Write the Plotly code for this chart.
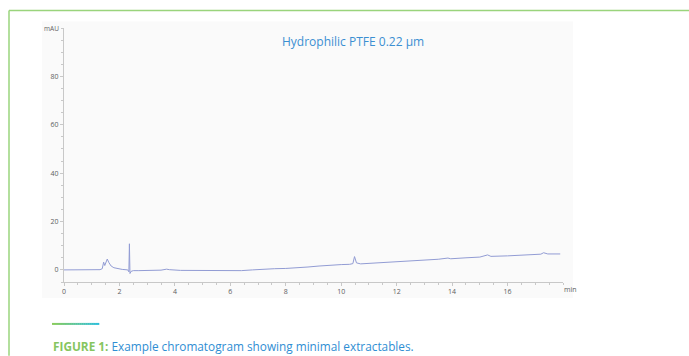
import plotly.graph_objects as go

# Retention time (min) and detector signal (mAU)
time_min = [0.0, 0.5, 1.0, 1.3, 1.38, 1.43, 1.47, 1.51, 1.56, 1.62, 1.70, 1.80, 1.95,
            2.1, 2.3, 2.34, 2.36, 2.38, 2.42, 2.5, 2.7, 3.0, 3.5, 3.7, 3.8, 4.2,
            5.0, 5.5, 6.0, 6.4, 6.8, 7.2, 7.6, 8.0, 8.4, 8.8, 9.2, 9.6, 9.8, 10.0,
            10.3, 10.42, 10.48, 10.55, 10.7, 11.0, 11.4, 11.5, 12.0, 12.5, 13.0,
            13.5, 13.85, 13.95, 14.5, 15.0, 15.28, 15.4, 16.0, 16.5, 17.0, 17.2,
            17.3, 17.45, 17.9]
signal_mau = [0.0, 0.0, 0.0, 0.1, 0.5, 3.2, 1.8, 3.0, 4.5, 3.0, 1.6, 0.9, 0.4,
              0.2, 0.0, -0.8, 10.8, -1.5, -0.6, -0.3, -0.3, -0.2, -0.1, 0.3, 0.1, -0.2,
              -0.3, -0.3, -0.5, -0.3, 0.0, 0.4, 0.5, 0.6, 0.8, 1.2, 1.6, 2.0, 1.9, 2.2,
              2.3, 2.6, 5.5, 2.9, 2.5, 2.7, 3.2, 3.0, 3.4, 3.7, 4.1,
              4.4, 4.9, 4.6, 5.0, 5.3, 6.2, 5.6, 5.8, 6.0, 6.2, 6.5,
              7.1, 6.6, 6.6]

x_ticks = [0, 2, 4, 6, 8, 10, 12, 14, 16]
y_ticks = [0, 20, 40, 60, 80]

W, H = 689, 356
M_L, M_R, M_T, M_B = 64, 126, 27.5, 74
PW, PH = W - M_L - M_R, H - M_T - M_B


def px(xp):
    return (xp - M_L) / PW


def py(yp):
    return (H - M_B - yp) / PH


FONT = "Open Sans"
AXIS_COL = "#c8c8c8"
TICK_FONT = dict(family=FONT, size=7, color="#606060")

fig = go.Figure()
fig.add_trace(go.Scatter(
    x=time_min, y=signal_mau, mode="lines",
    line=dict(color="#929cd4", width=1), hoverinfo="skip", showlegend=False,
))

shapes = [
    # light panel behind the chromatogram
    dict(type="rect", xref="paper", yref="paper", x0=px(42), x1=px(573),
         y0=py(298), y1=py(21), fillcolor="#fafafa", line=dict(width=0), layer="below"),
    # green frame lines
    dict(type="line", xref="paper", yref="paper", x0=px(9), x1=px(689),
         y0=py(10), y1=py(10), line=dict(color="#9ad47c", width=1.5)),
    dict(type="line", xref="paper", yref="paper", x0=px(9), x1=px(9),
         y0=py(10), y1=py(356), line=dict(color="#9ad47c", width=1.5)),
]

# short green-to-cyan rule above the caption, built from abutting filled strips
g0, g1 = (140, 204, 90), (40, 190, 220)
n_seg = 24
for i in range(n_seg):
    f = (i + 0.5) / n_seg
    c = tuple(int(round(a + (b - a) * f)) for a, b in zip(g0, g1))
    xa = 52 + (99 - 52) * i / n_seg
    xb = 52 + (99 - 52) * (i + 1) / n_seg + 0.3
    shapes.append(dict(type="rect", xref="paper", yref="paper", x0=px(xa), x1=px(xb),
                       y0=py(325), y1=py(323), fillcolor="rgb(%d,%d,%d)" % c,
                       line=dict(width=0)))

annotations = [
    dict(text="Hydrophilic PTFE 0.22 µm", xref="paper", yref="paper",
         x=px(353), y=py(41), xanchor="center", yanchor="middle", showarrow=False,
         font=dict(family=FONT, size=12, color="#3b8fd2")),
    dict(text="mAU", xref="paper", yref="paper", x=px(61), y=py(28),
         xanchor="right", yanchor="middle", showarrow=False,
         font=dict(family=FONT, size=6.5, color="#606060")),
    dict(text="min", xref="paper", yref="paper", x=px(562), y=py(290),
         xanchor="left", yanchor="middle", showarrow=False, font=TICK_FONT),
    dict(text="<b><span style='color:#86c55f'>FIGURE 1:</span></b> "
              "<span style='color:#2f8ed3'>Example chromatogram showing minimal extractables.</span>",
         xref="paper", yref="paper", x=px(51), y=py(346), xanchor="left", yanchor="middle",
         showarrow=False, font=dict(family=FONT, size=11.8)),
]

fig.update_layout(
    width=W, height=H, margin=dict(l=M_L, r=M_R, t=M_T, b=M_B),
    paper_bgcolor="white", plot_bgcolor="rgba(0,0,0,0)",
    shapes=shapes, annotations=annotations, showlegend=False,
    xaxis=dict(range=[0, 18], tickvals=x_ticks, ticktext=[str(v) for v in x_ticks],
               showline=True, linecolor=AXIS_COL, linewidth=1, showgrid=False, zeroline=False,
               ticks="outside", ticklen=3, tickcolor=AXIS_COL, tickfont=TICK_FONT,
               minor=dict(dtick=0.5, ticks="outside", ticklen=2, tickcolor=AXIS_COL, showgrid=False)),
    yaxis=dict(range=[-5, 100], tickvals=y_ticks, ticktext=[str(v) for v in y_ticks],
               showline=True, linecolor=AXIS_COL, linewidth=1, showgrid=False, zeroline=False,
               ticks="outside", ticklen=3, tickcolor=AXIS_COL, tickfont=TICK_FONT,
               minor=dict(dtick=5, ticks="outside", ticklen=2, tickcolor=AXIS_COL, showgrid=False)),
)

fig.write_html("out.html")
